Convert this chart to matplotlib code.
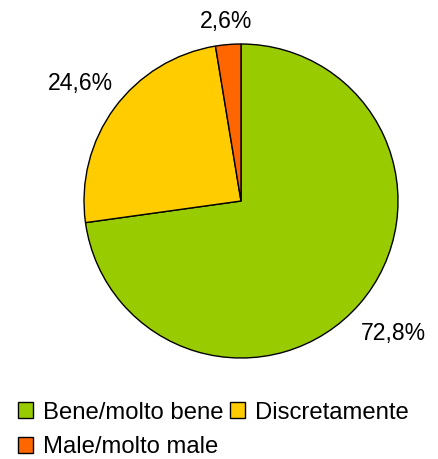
import matplotlib.pyplot as plt
import numpy as np
from matplotlib.patches import Patch

# Dati
categorie = ["Bene/molto bene", "Discretamente", "Male/molto male"]
valori = [72.8, 24.6, 2.6]
etichette = ["72,8%", "24,6%", "2,6%"]
colori = ["#99CC00", "#FFCC00", "#FF6600"]

plt.rcParams['font.family'] = ['Liberation Sans', 'DejaVu Sans']

fig = plt.figure(figsize=(4.39, 4.59), dpi=100)
ax = fig.add_axes([(241 - 157) / 439, 1 - (201 + 157) / 459, 314 / 439, 314 / 459])

spicchi, _ = ax.pie(valori, colors=colori, startangle=90, counterclock=False,
                    wedgeprops=dict(edgecolor='black', linewidth=1.0))
ax.set_xlim(-1, 1)
ax.set_ylim(-1, 1)
ax.set_aspect('auto')

# Etichette percentuali lungo la bisettrice di ogni spicchio
distanze = [1.284, 1.267, 1.148]
for sp, testo, d in zip(spicchi, etichette, distanze):
    ang = np.deg2rad((sp.theta1 + sp.theta2) / 2)
    ax.text(d * np.cos(ang), d * np.sin(ang), testo, ha='center', va='center',
            fontsize=16.6, clip_on=False)

# Legenda riga per riga: (Bene, Discretamente) / (Male)
ordine = [0, 2, 1]
maniglie = [Patch(facecolor=colori[i], edgecolor='black', linewidth=1.0) for i in ordine]
nomi = [categorie[i] for i in ordine]
fig.legend(maniglie, nomi, loc='lower left', bbox_to_anchor=(0.008, -0.03),
           ncol=2, frameon=False, fontsize=17.2, handlelength=0.64, handleheight=0.64,
           handletextpad=0.42, columnspacing=0.25, labelspacing=0.53, borderaxespad=0.2)

fig.savefig("out.png", dpi=100)
